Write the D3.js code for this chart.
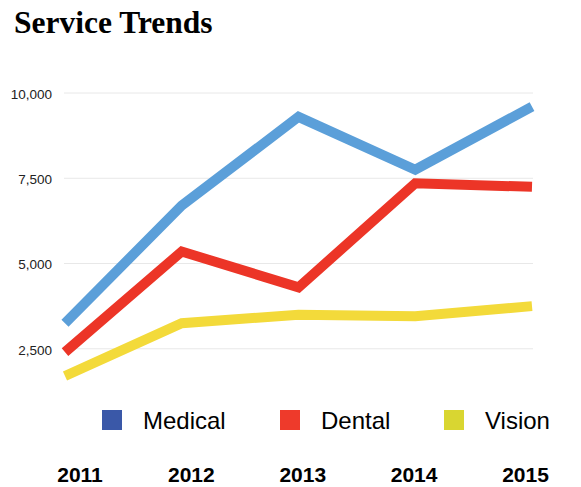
<!DOCTYPE html>
<html>
<head>
<meta charset="utf-8">
<script src="https://cdn.jsdelivr.net/npm/d3@7"></script>
<style>
  html, body { margin: 0; padding: 0; background: #fff; }
  svg { display: block; }
</style>
</head>
<body>
<svg id="chart" width="581" height="487"></svg>
<script>
// Service volumes per year
const years = ["2011", "2012", "2013", "2014", "2015"];
const medical = [3250, 6700, 9300, 7750, 9600];
const dental = [2400, 5350, 4300, 7350, 7250];
const vision = [1700, 3250, 3500, 3450, 3750];
const yTicks = [2500, 5000, 7500, 10000];
const seriesNames = ["Medical", "Dental", "Vision"];

const series = [
  { name: seriesNames[0], values: medical, line: "#5b9fd9", swatch: "#3a58a8" },
  { name: seriesNames[1], values: dental, line: "#ec3527", swatch: "#ee3a2b" },
  { name: seriesNames[2], values: vision, line: "#f3da3a", swatch: "#d9d631" }
];

const svg = d3.select("#chart");

// Title
svg.append("text")
  .attr("x", 14).attr("y", 33)
  .attr("font-family", "'Liberation Serif', 'Times New Roman', serif")
  .attr("font-weight", "bold")
  .attr("font-size", 31.5)
  .attr("fill", "#000")
  .text("Service Trends");

const x = d3.scalePoint().domain(years).range([65, 532]);
const y = d3.scaleLinear().domain([0, 10000]).range([434, 93]);

// Horizontal gridlines
svg.append("g")
  .selectAll("line")
  .data(yTicks)
  .join("line")
  .attr("x1", 64).attr("x2", 533)
  .attr("y1", d => y(d)).attr("y2", d => y(d))
  .attr("stroke", "#e8e8e8")
  .attr("stroke-width", 1);

// Y axis labels
const yAxis = d3.axisLeft(y)
  .tickValues(yTicks)
  .tickFormat(d3.format(","))
  .tickSize(0)
  .tickPadding(0);
const yg = svg.append("g").attr("transform", "translate(52,1)").call(yAxis);
yg.select(".domain").remove();
yg.selectAll("text")
  .attr("font-family", "'Liberation Sans', Arial, sans-serif")
  .attr("font-size", 13.5)
  .attr("fill", "#222");

// Series lines
const line = d3.line()
  .x((d, i) => x(years[i]))
  .y(d => y(d));

svg.append("g")
  .selectAll("path")
  .data(series)
  .join("path")
  .attr("d", d => line(d.values))
  .attr("fill", "none")
  .attr("stroke", d => d.line)
  .attr("stroke-width", 10)
  .attr("stroke-linejoin", "miter")
  .attr("stroke-linecap", "butt");

// Legend
const legendX = [102, 280, 444];
const legend = svg.append("g")
  .selectAll("g")
  .data(series)
  .join("g")
  .attr("transform", (d, i) => `translate(${legendX[i]},410)`);
legend.append("rect")
  .attr("width", 20).attr("height", 20)
  .attr("fill", d => d.swatch);
legend.append("text")
  .attr("x", 41).attr("y", 19)
  .attr("font-family", "'Liberation Sans', Arial, sans-serif")
  .attr("font-size", 24)
  .attr("fill", "#000")
  .text(d => d.name);

// Year labels along the bottom
const xLabel = d3.scalePoint().domain(years).range([79.5, 525]);
const xAxis = d3.axisBottom(xLabel).tickSize(0).tickPadding(0);
const xg = svg.append("g").attr("transform", "translate(0,467)").call(xAxis);
xg.select(".domain").remove();
xg.selectAll("text")
  .attr("font-family", "'Liberation Sans', Arial, sans-serif")
  .attr("font-weight", "bold")
  .attr("font-size", 21)
  .attr("fill", "#000");
</script>
</body>
</html>
